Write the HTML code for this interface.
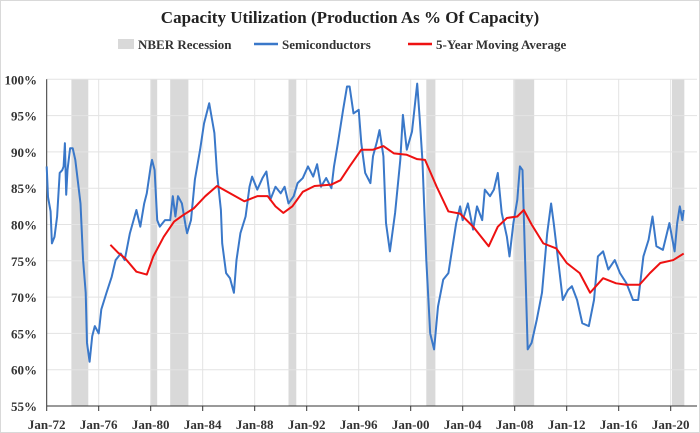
<!DOCTYPE html>
<html><head><meta charset="utf-8"><style>
body{margin:0;background:#fff;}
svg{display:block;font-family:"Liberation Serif",serif;}
</style></head><body>
<svg id="c" width="700" height="433">
<rect x="0.5" y="0.5" width="699" height="432" fill="#fff" stroke="#d9d9d9"/>
<text x="350" y="23" text-anchor="middle" font-size="17" font-weight="bold" fill="#222">Capacity Utilization (Production As % Of Capacity)</text>
<g>
<rect x="118" y="39" width="16" height="10" fill="#d9d9d9"/>
<text x="138" y="49" font-size="13" font-weight="bold" fill="#333">NBER Recession</text>
<line x1="254" y1="44" x2="278" y2="44" stroke="#3a78c9" stroke-width="2.5"/>
<text x="282" y="49" font-size="13" font-weight="bold" fill="#333">Semiconductors</text>
<line x1="408" y1="44" x2="432" y2="44" stroke="#ee1111" stroke-width="2.5"/>
<text x="436" y="49" font-size="13" font-weight="bold" fill="#333">5-Year Moving Average</text>
</g>
<g id="plot"></g>
</svg>
<script>
const recessionStarts=[1973.9,1980.0,1981.5,1990.6,2001.2,2007.9,2020.1];
const recessionEnds=[1975.2,1980.5,1982.9,1991.2,2001.9,2009.5,2021.05];
const semiYears=[1972.0,1972.1,1972.3,1972.4,1972.6,1972.8,1973.0,1973.2,1973.3,1973.4,1973.5,1973.6,1973.8,1974.0,1974.2,1974.4,1974.6,1974.8,1975.0,1975.1,1975.3,1975.5,1975.7,1976.0,1976.2,1976.6,1977.0,1977.3,1977.7,1978.0,1978.4,1978.9,1979.2,1979.5,1979.7,1980.0,1980.1,1980.3,1980.5,1980.7,1981.1,1981.5,1981.7,1981.9,1982.1,1982.4,1982.7,1982.8,1983.1,1983.4,1983.8,1984.1,1984.5,1984.9,1985.1,1985.4,1985.5,1985.8,1986.1,1986.4,1986.6,1986.9,1987.3,1987.6,1987.8,1988.2,1988.6,1988.9,1989.2,1989.6,1990.0,1990.3,1990.6,1991.0,1991.3,1991.7,1992.1,1992.5,1992.8,1993.1,1993.5,1993.9,1994.1,1994.4,1994.8,1995.1,1995.3,1995.6,1996.0,1996.2,1996.5,1996.9,1997.1,1997.4,1997.6,1997.9,1998.1,1998.4,1998.8,1999.2,1999.4,1999.7,2000.1,2000.5,2000.7,2000.9,2001.2,2001.5,2001.8,2002.1,2002.5,2002.9,2003.1,2003.5,2003.8,2004.0,2004.4,2004.8,2005.1,2005.5,2005.7,2006.1,2006.4,2006.7,2007.0,2007.4,2007.6,2007.9,2008.2,2008.4,2008.6,2008.8,2009.0,2009.3,2009.7,2010.1,2010.5,2010.8,2011.0,2011.4,2011.7,2012.1,2012.4,2012.8,2013.2,2013.7,2014.1,2014.4,2014.8,2015.2,2015.7,2016.1,2016.6,2017.1,2017.5,2017.9,2018.3,2018.6,2018.9,2019.4,2019.9,2020.3,2020.5,2020.7,2020.9,2021.0];
const semiValues=[88.0,83.8,81.8,77.4,78.3,81.1,87.1,87.5,88.0,91.2,84.1,87.5,90.5,90.5,88.9,85.9,82.9,75.1,70.6,63.7,61.1,64.6,66.0,65.0,68.3,70.6,72.8,75.1,76.0,75.1,78.8,82.0,79.7,82.9,84.3,88.0,88.9,87.5,80.6,79.7,80.6,80.6,83.9,81.1,83.9,82.9,79.7,78.8,80.6,86.2,90.3,93.9,96.7,92.6,87.1,82.0,77.4,73.3,72.6,70.6,75.1,78.8,81.1,85.2,86.6,84.8,86.4,87.3,83.4,85.2,84.3,85.2,82.9,83.9,85.7,86.4,88.0,86.6,88.3,85.2,86.4,85.0,88.0,91.2,95.8,99.0,99.0,95.3,95.8,91.2,87.1,85.7,89.4,91.4,93.0,89.4,80.2,76.3,81.6,88.9,95.1,90.3,92.8,99.4,94.4,88.9,75.1,65.0,62.8,68.7,72.4,73.3,75.6,80.2,82.5,80.6,82.9,79.3,82.5,80.6,84.8,83.9,84.8,87.1,81.6,78.3,75.6,80.2,83.4,88.0,87.5,75.1,62.8,63.7,66.9,70.6,78.8,82.9,80.2,74.2,69.6,71.0,71.5,69.6,66.4,66.0,69.6,75.6,76.3,73.8,75.1,73.3,71.9,69.6,69.6,75.6,77.9,81.1,77.0,76.5,80.2,76.3,80.2,82.5,80.6,82.0];
const maYears=[1976.9,1977.5,1978.0,1978.9,1979.7,1980.2,1981.0,1981.8,1982.5,1983.3,1984.2,1985.1,1986.1,1987.2,1988.2,1989.0,1989.6,1990.2,1990.9,1991.7,1992.6,1993.9,1994.6,1995.3,1996.2,1997.1,1997.9,1998.7,1999.7,2000.5,2001.1,2002.0,2002.9,2003.8,2004.8,2006.0,2006.7,2007.4,2008.2,2008.7,2009.3,2010.2,2011.2,2012.0,2013.0,2013.8,2014.8,2015.8,2016.6,2017.6,2018.4,2019.2,2020.2,2021.0];
const maValues=[77.2,76.1,75.4,73.5,73.1,75.6,78.3,80.4,81.3,82.2,83.9,85.3,84.3,83.2,83.9,83.9,82.5,81.6,82.5,84.5,85.3,85.5,86.1,88.0,90.3,90.3,90.8,89.8,89.6,89.0,88.9,85.2,81.8,81.5,79.7,77.0,79.7,80.9,81.1,82.0,80.0,77.4,76.7,74.7,73.3,70.6,72.6,71.9,71.7,71.7,73.3,74.7,75.1,76.0];
const yTicks=[55,60,65,70,75,80,85,90,95,100];
const xTickYears=[1972,1976,1980,1984,1988,1992,1996,2000,2004,2008,2012,2016,2020];
const xTickLabels=["Jan-72","Jan-76","Jan-80","Jan-84","Jan-88","Jan-92","Jan-96","Jan-00","Jan-04","Jan-08","Jan-12","Jan-16","Jan-20"];

const X0=46.7,PXY=13.0,YTOP=79.3,YBOT=406,RIGHT=697;
const xs=y=>X0+(y-1972)*PXY;
const ys=v=>YBOT-(v-55)*(YBOT-YTOP)/45;
const NS="http://www.w3.org/2000/svg";
const g=document.getElementById('plot');
function mk(t,a){const e=document.createElementNS(NS,t);for(const k in a)e.setAttribute(k,a[k]);g.appendChild(e);return e;}
recessionStarts.forEach((s,i)=>{
 const r=mk('rect',{x:xs(s),y:YTOP,width:xs(recessionEnds[i])-xs(s),height:YBOT-YTOP,fill:'#d9d9d9'});
 
 
});
yTicks.forEach(v=>{
 if(v>55){const l=mk('line',{x1:X0,x2:RIGHT,y1:ys(v),y2:ys(v),stroke:'#e3e3e3','stroke-width':1});
 
 }
 const t=mk('text',{x:37,y:ys(v)+5,'text-anchor':'end','font-size':13,'font-weight':'bold',fill:'#333'});
 t.textContent=v+'%';
 
 
});
xTickYears.forEach((yr,i)=>{
 if(i>0){const l=mk('line',{x1:xs(yr),x2:xs(yr),y1:YTOP,y2:YBOT,stroke:'#e3e3e3','stroke-width':1});
 
 }
 const tk=mk('line',{x1:xs(yr),x2:xs(yr),y1:YBOT,y2:YBOT+5,stroke:'#333'});
 
 
 const t=mk('text',{x:xs(yr),y:429,'text-anchor':'middle','font-size':13,'font-weight':'bold',fill:'#333'});
 t.textContent=xTickLabels[i];
 
 
});
const ax=mk('line',{x1:X0,x2:RIGHT,y1:YBOT,y2:YBOT,stroke:'#333','stroke-width':1});


const ay=mk('line',{x1:X0,x2:X0,y1:YTOP,y2:YBOT,stroke:'#333','stroke-width':1});


const sp=mk('polyline',{points:semiYears.map((y,i)=>xs(y)+','+ys(semiValues[i])).join(' '),fill:'none',stroke:'#3a78c9','stroke-width':2,'stroke-linejoin':'round'});


const mp=mk('polyline',{points:maYears.map((y,i)=>xs(y)+','+ys(maValues[i])).join(' '),fill:'none',stroke:'#ee1111','stroke-width':2,'stroke-linejoin':'round'});


</script>
</body></html>
